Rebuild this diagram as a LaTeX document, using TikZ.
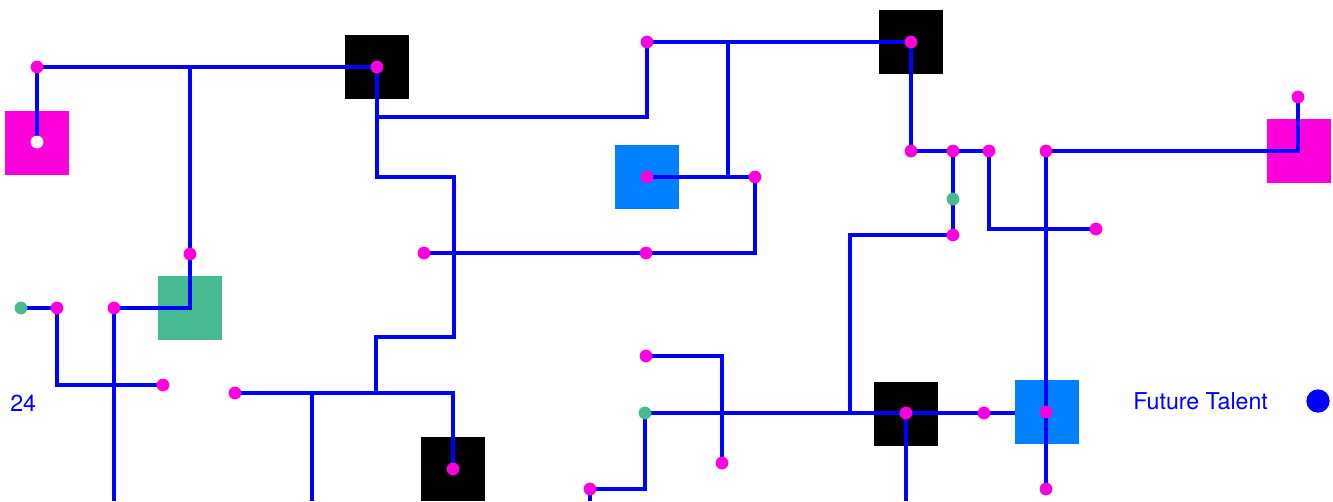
\documentclass[tikz,border=0pt]{standalone}
\usepackage{fontspec}
\setmainfont{TeX Gyre Heros}
\definecolor{wireblue}{RGB}{0,0,255}
\definecolor{dotmag}{RGB}{255,0,220}
\definecolor{dotgreen}{RGB}{70,187,145}
\definecolor{boxblue}{RGB}{0,128,255}
\pgfdeclarelayer{bg}
\pgfdeclarelayer{mid}
\pgfsetlayers{bg,mid,main}
\tikzset{
  sqbox/.style={minimum size=48pt,inner sep=0pt,outer sep=0pt,draw=none},
  magbox/.style={sqbox,fill=dotmag},
  blkbox/.style={sqbox,fill=black},
  grnbox/.style={sqbox,fill=dotgreen},
  blubox/.style={sqbox,fill=boxblue},
  pin/.style={circle,minimum size=9.6pt,inner sep=0pt,outer sep=0pt,draw=none},
  mdot/.style={pin,fill=dotmag},
  gdot/.style={pin,fill=dotgreen},
  wdot/.style={pin,fill=white},
  wire/.style={draw=wireblue,line width=2.6pt,line join=miter},
  lbl/.style={text=wireblue,font=\fontsize{17.4}{20}\selectfont,inner sep=0pt,anchor=west}
}
\begin{document}
\begin{tikzpicture}[x=0.75pt,y=-0.75pt]
\useasboundingbox (0,0) rectangle (1333,501);
% dots
\path
  (37,142) node[wdot] (w1) {}
  (37,67) node[mdot] (m1) {}
  (377,67) node[mdot] (m2) {}
  (190,254) node[mdot] (m3) {}
  (57,308) node[mdot] (m4) {}
  (21,308) node[gdot] (g1) {}
  (114,308) node[mdot] (m5) {}
  (163,385) node[mdot] (m6) {}
  (235,393) node[mdot] (m7) {}
  (453,469) node[mdot] (m8) {}
  (424,253) node[mdot] (m9) {}
  (646,253) node[mdot] (m10) {}
  (647,42) node[mdot] (m11) {}
  (647,177) node[mdot] (m12) {}
  (755,177) node[mdot] (m13) {}
  (911,42) node[mdot] (m14) {}
  (911,151) node[mdot] (m15) {}
  (953,151) node[mdot] (m16) {}
  (989,151) node[mdot] (m17) {}
  (953,199) node[gdot] (g2) {}
  (953,235) node[mdot] (m18) {}
  (1046,151) node[mdot] (m19) {}
  (1096,229) node[mdot] (m20) {}
  (1298,97) node[mdot] (m21) {}
  (646,356) node[mdot] (m22) {}
  (645,413) node[gdot] (g3) {}
  (722,463) node[mdot] (m23) {}
  (590,489) node[mdot] (m24) {}
  (906,413) node[mdot] (m25) {}
  (984,413) node[mdot] (m26) {}
  (1046,412) node[mdot] (m27) {}
  (1046,489) node[mdot] (m28) {};
% coordinates
\coordinate (b1) at (114,501);
\coordinate (b2) at (312,501);
\coordinate (b3) at (590,501);
\coordinate (b4) at (906,501);
\coordinate (j1) at (190,67);
\coordinate (j2) at (377,117);
\coordinate (j3) at (377,177);
\coordinate (j4) at (454,177);
\coordinate (j5) at (454,337);
\coordinate (j6) at (376,337);
\coordinate (j7) at (376,393);
\coordinate (j8) at (312,393);
\coordinate (j9) at (453,393);
\coordinate (j10) at (647,117);
\coordinate (j11) at (728,42);
\coordinate (j12) at (728,177);
\coordinate (j13) at (755,253);
\coordinate (j14) at (850,235);
\coordinate (j15) at (850,413);
\coordinate (j16) at (989,229);
\coordinate (j17) at (1298,151);
\coordinate (j18) at (57,385);
\coordinate (j19) at (190,308);
\coordinate (j20) at (722,356);
\coordinate (j21) at (645,489);
\coordinate (j22) at (1046,413);
\begin{pgfonlayer}{bg}
\node[magbox] (sqM1) at (37,143) {};
\node[blkbox] (sqK1) at (377,67) {};
\node[grnbox] (sqG) at (190,308) {};
\node[blkbox] (sqK2) at (453,469) {};
\node[blubox] (sqB1) at (647,177) {};
\node[blkbox] (sqK3) at (911,42) {};
\node[magbox] (sqM2) at (1299,151) {};
\node[blkbox] (sqK4) at (906,414) {};
\draw[wire] (m25.center) -- (m26.center) -- (j22);
\node[blubox] (sqB2) at (1047,412) {};
\end{pgfonlayer}
\begin{pgfonlayer}{mid}
\draw[wire] (w1.center) -- (m1.center) -- (m2.center);
\draw[wire] (j1) -- (j19) -- (m5.center) -- (b1);
\draw[wire] (g1.center) -- (m4.center) -- (j18) -- (m6.center);
\draw[wire] (m2.center) -- (j3) -- (j4) -- (j5) -- (j6) -- (j7);
\draw[wire] (m7.center) -- (j9) -- (m8.center);
\draw[wire] (j8) -- (b2);
\draw[wire] (j2) -- (j10) -- (m11.center) -- (m14.center);
\draw[wire] (j11) -- (j12);
\draw[wire] (m12.center) -- (m13.center) -- (j13) -- (m9.center);
\draw[wire] (m14.center) -- (m15.center) -- (m17.center);
\draw[wire] (m16.center) -- (m18.center) -- (j14) -- (j15);
\draw[wire] (m17.center) -- (j16) -- (m20.center);
\draw[wire] (m19.center) -- (j17) -- (m21.center);
\draw[wire] (m19.center) -- (m28.center);
\draw[wire] (m22.center) -- (j20) -- (m23.center);
\draw[wire] (m24.center) -- (j21) -- (g3.center);
\draw[wire] (m24.center) -- (b3);
\draw[wire] (m25.center) -- (b4);
\draw[wire] (g3.center) -- (m25.center);
\end{pgfonlayer}
% labels
\node[lbl] (t24) at (10,403) {24};
\node[lbl] (tft) at (1133,401) {Future Talent};
\node[circle,fill=wireblue,minimum size=17.5pt,inner sep=0pt,draw=none] (leg) at (1318,401) {};
\end{tikzpicture}
\end{document}
